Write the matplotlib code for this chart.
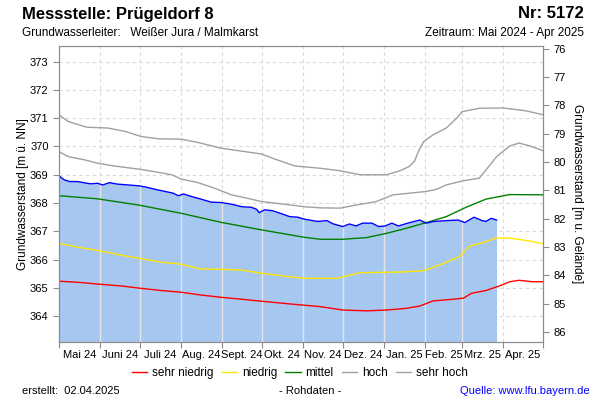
# Ganglinie Grundwasserstand Messstelle Prügeldorf 8 (Mai 2024 - Apr 2025)

import numpy as np
import pandas as pd
import matplotlib
matplotlib.use("Agg")
import matplotlib.pyplot as plt

plt.rcParams["font.family"] = ["Liberation Sans", "DejaVu Sans"]

# Zeitachse: Tage seit 01.05.2024
start = pd.Timestamp("2024-05-01")
monate = pd.date_range("2024-05-01", "2025-05-01", freq="MS")
monat_labels = ["Mai 24", "Juni 24", "Juli 24", "Aug. 24", "Sept. 24", "Okt. 24",
                "Nov. 24", "Dez. 24", "Jan. 25", "Feb. 25", "Mrz. 25", "Apr. 25"]

gelaende = 449.45

# Messwerte (Rohdaten)
mess_tag = [0, 4, 8, 14, 21, 24, 29, 33, 38, 44, 52, 60, 66, 72, 80, 86, 90, 94,
            100, 107, 115, 122, 130, 138, 145, 149, 151, 155, 161, 168, 174, 180,
            185, 195, 202, 207, 214, 219, 224, 229, 236, 241, 246, 251, 256, 263,
            272, 277, 283, 293, 301, 306, 313, 319, 322, 326, 330]
mess_wert = [368.96, 368.82, 368.76, 368.76, 368.70, 368.68, 368.70, 368.64, 368.72,
             368.67, 368.64, 368.61, 368.56, 368.49, 368.41, 368.35, 368.26, 368.32,
             368.23, 368.14, 368.03, 368.02, 367.96, 367.87, 367.85, 367.78, 367.66,
             367.76, 367.73, 367.62, 367.52, 367.50, 367.43, 367.35, 367.38, 367.26,
             367.17, 367.26, 367.19, 367.29, 367.29, 367.17, 367.19, 367.29, 367.19,
             367.29, 367.40, 367.29, 367.35, 367.38, 367.40, 367.31, 367.50, 367.38,
             367.35, 367.46, 367.40]

# Kennwerte
sehr_hoch_tag = [0, 7, 21, 37, 50, 62, 75, 92, 105, 122, 140, 153, 163, 178, 197,
                 212, 227, 247, 257, 264, 268, 271, 275, 282, 292, 300, 304, 317,
                 335, 352, 365]
sehr_hoch = [371.12, 370.88, 370.68, 370.65, 370.53, 370.35, 370.27, 370.26, 370.14,
             369.94, 369.82, 369.73, 369.55, 369.31, 369.23, 369.14, 369.00, 369.00,
             369.14, 369.29, 369.47, 369.82, 370.17, 370.41, 370.65, 371.00, 371.23,
             371.35, 371.36, 371.26, 371.12]

hoch_tag = [0, 7, 19, 29, 40, 60, 72, 85, 92, 105, 117, 130, 142, 153, 168, 185,
            197, 212, 224, 239, 252, 277, 285, 292, 305, 317, 322, 330, 340, 347,
            355, 365]
hoch = [369.82, 369.64, 369.53, 369.41, 369.32, 369.20, 369.11, 369.00, 368.85,
        368.72, 368.53, 368.29, 368.17, 368.05, 367.97, 367.87, 367.83, 367.82,
        367.93, 368.05, 368.29, 368.41, 368.49, 368.64, 368.79, 368.88, 369.17,
        369.64, 370.02, 370.12, 370.02, 369.85]

mittel_tag = [0, 29, 60, 92, 122, 153, 185, 197, 214, 232, 247, 262, 277, 292,
              307, 322, 340, 365]
mittel = [368.26, 368.15, 367.93, 367.64, 367.32, 367.05, 366.79, 366.72, 366.72,
          366.78, 366.93, 367.11, 367.31, 367.52, 367.85, 368.14, 368.30, 368.29]

niedrig_tag = [0, 12, 31, 47, 61, 77, 92, 107, 122, 138, 153, 173, 185, 210, 227,
               257, 275, 287, 302, 310, 320, 329, 340, 355, 365]
niedrig = [366.58, 366.46, 366.31, 366.16, 366.04, 365.91, 365.84, 365.67, 365.66,
           365.63, 365.52, 365.40, 365.34, 365.34, 365.54, 365.56, 365.61, 365.81,
           366.11, 366.49, 366.60, 366.76, 366.76, 366.66, 366.56]

sehr_niedrig_tag = [0, 17, 31, 47, 61, 77, 92, 107, 122, 138, 153, 173, 185, 197,
                    214, 232, 247, 262, 272, 282, 297, 305, 311, 322, 332, 340, 347,
                    357, 365]
sehr_niedrig = [365.24, 365.19, 365.13, 365.07, 364.99, 364.91, 364.85, 364.75,
                364.67, 364.60, 364.53, 364.44, 364.39, 364.34, 364.22, 364.19,
                364.22, 364.28, 364.36, 364.54, 364.60, 364.64, 364.81, 364.91,
                365.07, 365.22, 365.27, 365.22, 365.22]

# Achsenbereiche
y_min, y_max = 363.09, 373.55
tage_grenzen = np.array([(m - start).days for m in monate])
tage_mitte = (tage_grenzen[:-1] + tage_grenzen[1:]) / 2

fig = plt.figure(figsize=(6, 4), dpi=100)
ax = fig.add_axes([59 / 600, 58 / 400, 484 / 600, 296 / 400])

# Füllung und Ganglinie
fill = ax.fill_between(mess_tag, mess_wert, y_min - 5, color="#a6c8f0", lw=0, zorder=1)
for d in tage_grenzen[1:-1]:
    ln = ax.axvline(d, color="#e4e4e4", lw=1.0, zorder=1.5)
    ln.set_clip_path(fill.get_paths()[0], ax.transData)

ax.plot(sehr_niedrig_tag, sehr_niedrig, color="#ff0000", lw=1, label="sehr niedrig", zorder=3)
ax.plot(niedrig_tag, niedrig, color="#ffe600", lw=1, label="niedrig", zorder=3)
ax.plot(mittel_tag, mittel, color="#008000", lw=1, label="mittel", zorder=3)
ax.plot(hoch_tag, hoch, color="#a0a0a0", lw=1, label="hoch", zorder=3)
ax.plot(sehr_hoch_tag, sehr_hoch, color="#a0a0a0", lw=1, label="sehr hoch", zorder=3)
ax.plot(mess_tag, mess_wert, color="#0000ff", lw=1, zorder=4)

# Achsen
ax.set_xlim(tage_grenzen[0], tage_grenzen[-1])
ax.set_ylim(y_min, y_max)
ax.set_xticks(tage_grenzen)
ax.set_xticklabels([])
ax.set_xticks(tage_mitte, minor=True)
ax.set_xticklabels(monat_labels, minor=True, fontsize=8)
ax.tick_params(axis="x", which="major", length=4, color="#8c8c8c")
ax.tick_params(axis="x", which="minor", length=0, pad=6)
ax.set_yticks(range(364, 374))
ax.tick_params(axis="y", labelsize=8, length=4, color="#8c8c8c")
ax.set_axisbelow(True)
ax.grid(True, which="major", color="#d9d9d9", ls=(0, (3, 3)), lw=0.8)
ax.set_ylabel("Grundwasserstand [m ü. NN]", fontsize=8.5, labelpad=0.5)
for s in ax.spines.values():
    s.set_color("#8c8c8c")

ax2 = ax.twinx()
ax2.set_ylim(gelaende - y_min, gelaende - y_max)
ax2.set_yticks(range(76, 87))
ax2.tick_params(axis="y", labelsize=8, length=4, color="#8c8c8c")
ax2.set_ylabel("Grundwasserstand [m u. Gelände]", fontsize=8.5, rotation=270, labelpad=12)
for s in ax2.spines.values():
    s.set_color("#8c8c8c")

# Kopfzeilen
fig.text(22 / 600, 0.965, "Messstelle: Prügeldorf 8", fontsize=12, fontweight="bold", va="center")
fig.text(584 / 600, 0.965, "Nr: 5172", fontsize=12, fontweight="bold", va="center", ha="right")
fig.text(22 / 600, 0.917, "Grundwasserleiter:   Weißer Jura / Malmkarst", fontsize=8.5, va="center")
fig.text(584 / 600, 0.917, "Zeitraum: Mai 2024 - Apr 2025", fontsize=8.5, va="center", ha="right")

# Legende
fig.legend(loc="center", bbox_to_anchor=(0.5, 1 - 373 / 400), ncol=5, frameon=False,
           fontsize=8.5, handlelength=1.3, handletextpad=0.4, columnspacing=0.7)

# Fußzeile
fig.text(22 / 600, 1 - 391 / 400, "erstellt:  02.04.2025", fontsize=8, va="center")
fig.text(310 / 600, 1 - 391 / 400, "- Rohdaten -", fontsize=8, va="center", ha="center")
fig.text(590 / 600, 1 - 391 / 400, "Quelle: www.lfu.bayern.de", fontsize=8, va="center",
         ha="right", color="#0000ff")

fig.savefig("out.png", dpi=100)
